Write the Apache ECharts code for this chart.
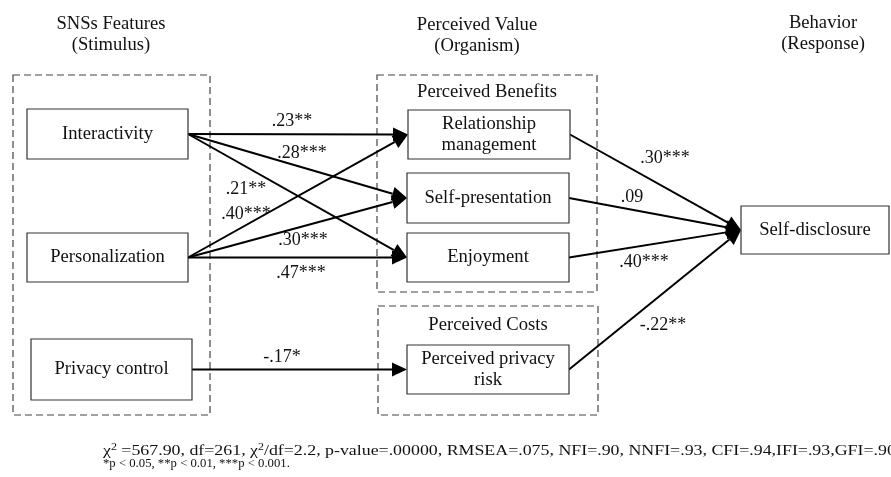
<!DOCTYPE html>
<html>
<head>
<meta charset="utf-8">
<script src="https://cdn.jsdelivr.net/npm/echarts@6/dist/echarts.min.js"></script>
<style>
  html, body { margin: 0; padding: 0; background: #fff; }
  #chart { width: 891px; height: 477px; }
</style>
</head>
<body>
<div id="chart"></div>
<script>
// constructs of the S-O-R model
const stimulusNodes = ['Interactivity', 'Personalization', 'Privacy control'];
const organismNodes = ['Relationship\nmanagement', 'Self-presentation', 'Enjoyment', 'Perceived privacy\nrisk'];
const responseNodes = ['Self-disclosure'];

// structural paths and their standardized coefficients
const pathFrom = ['Interactivity', 'Interactivity', 'Interactivity',
  'Personalization', 'Personalization', 'Personalization', 'Privacy control',
  'Relationship\nmanagement', 'Self-presentation', 'Enjoyment', 'Perceived privacy\nrisk'];
const pathTo = ['Relationship\nmanagement', 'Self-presentation', 'Enjoyment',
  'Relationship\nmanagement', 'Self-presentation', 'Enjoyment', 'Perceived privacy\nrisk',
  'Self-disclosure', 'Self-disclosure', 'Self-disclosure', 'Self-disclosure'];
const pathCoef = ['.23**', '.28***', '.21**', '.40***', '.30***', '.47***', '-.17*',
  '.30***', '.09', '.40***', '-.22**'];

const stageTitles = ['SNSs Features\n(Stimulus)', 'Perceived Value\n(Organism)', 'Behavior\n(Response)'];
const groupTitles = ['', 'Perceived Benefits', 'Perceived Costs'];
const fitText = '{t|χ}{s|2}{t| =567.90, df=261, χ}{s|2}{t|/df=2.2, p-value=.00000, RMSEA=.075, NFI=.90, NNFI=.93, CFI=.94,IFI=.93,GFI=.90}';
const noteText = '*p < 0.05, **p < 0.01, ***p < 0.001.';

// layout (pixel space of the hidden axes)
const boxPos = {
  'Interactivity': [27, 109, 188, 159],
  'Personalization': [27, 233, 188, 282],
  'Privacy control': [31, 339, 192, 400],
  'Relationship\nmanagement': [408, 110, 570, 159],
  'Self-presentation': [407, 173, 569, 223],
  'Enjoyment': [407, 233, 569, 282],
  'Perceived privacy\nrisk': [407, 345, 569, 394],
  'Self-disclosure': [741, 206, 889, 254]
};
const groupPos = [[13, 75, 210, 415], [377, 75, 597, 292], [378, 306, 598, 415]];
const groupTitlePos = [null, [487, 92], [488, 325]];
const stageTitlePos = [[111, 35], [477, 36], [823, 34]];
const coefPos = [[292, 121], [302, 153], [246, 189], [246, 214], [303, 240], [301, 273],
  [282, 357], [665, 158], [632, 197], [644, 262], [663, 325]];

const FONT = 'Liberation Serif';
const FS = 18.6;
const allNodes = stimulusNodes.concat(organismNodes, responseNodes);

const chart = echarts.init(document.getElementById('chart'));

chart.setOption({
  animation: false,
  grid: { left: 0, right: 0, top: 0, bottom: 0 },
  xAxis: { type: 'value', min: 0, max: 891, show: false },
  yAxis: { type: 'value', min: 0, max: 477, inverse: true, show: false },
  series: [
    {
      // dashed groups
      type: 'custom',
      z: 1,
      data: groupPos.map((g, i) => [i, 0]),
      renderItem(params, api) {
        const g = groupPos[params.dataIndex];
        const a = api.coord([g[0], g[1]]);
        const b = api.coord([g[2], g[3]]);
        const children = [{
          type: 'rect',
          shape: { x: a[0], y: a[1], width: b[0] - a[0], height: b[1] - a[1] },
          style: { fill: 'none', stroke: '#444', lineWidth: 1.2, lineDash: [7, 4] }
        }];
        const t = groupTitlePos[params.dataIndex];
        if (t) {
          const p = api.coord(t);
          children.push({
            type: 'text', x: p[0], y: p[1],
            style: { text: groupTitles[params.dataIndex], fontFamily: FONT, fontSize: FS,
              fill: '#111', align: 'center', verticalAlign: 'middle' }
          });
        }
        return { type: 'group', children };
      }
    },
    {
      // paths
      type: 'custom',
      z: 2,
      data: pathCoef.map((c, i) => [i, 0]),
      renderItem(params, api) {
        const i = params.dataIndex;
        const s = boxPos[pathFrom[i]];
        const t = boxPos[pathTo[i]];
        const p0 = api.coord([s[2], (s[1] + s[3]) / 2]);
        const p1 = api.coord([t[0], (t[1] + t[3]) / 2]);
        const dx = p1[0] - p0[0], dy = p1[1] - p0[1];
        const len = Math.hypot(dx, dy), ux = dx / len, uy = dy / len;
        const L = 15, W = 7;
        const base = [p1[0] - ux * L, p1[1] - uy * L];
        const lp = api.coord(coefPos[i]);
        return {
          type: 'group',
          children: [
            { type: 'line', shape: { x1: p0[0], y1: p0[1], x2: base[0], y2: base[1] },
              style: { stroke: '#000', lineWidth: 2 } },
            { type: 'polygon',
              shape: { points: [p1, [base[0] - uy * W, base[1] + ux * W], [base[0] + uy * W, base[1] - ux * W]] },
              style: { fill: '#000' } },
            { type: 'text', x: lp[0], y: lp[1],
              style: { text: pathCoef[i], fontFamily: FONT, fontSize: 18, fill: '#111',
                align: 'center', verticalAlign: 'middle' } }
          ]
        };
      }
    },
    {
      // construct boxes
      type: 'custom',
      z: 3,
      data: allNodes.map((n, i) => [i, 0]),
      renderItem(params, api) {
        const name = allNodes[params.dataIndex];
        const b = boxPos[name];
        const a = api.coord([b[0], b[1]]);
        const c = api.coord([b[2], b[3]]);
        return {
          type: 'group',
          children: [
            { type: 'rect', shape: { x: a[0], y: a[1], width: c[0] - a[0], height: c[1] - a[1] },
              style: { fill: '#fff', stroke: '#333', lineWidth: 1.2 } },
            { type: 'text', x: (a[0] + c[0]) / 2, y: (a[1] + c[1]) / 2,
              style: { text: name, fontFamily: FONT, fontSize: FS, lineHeight: 21, fill: '#111',
                align: 'center', verticalAlign: 'middle' } }
          ]
        };
      }
    }
  ],
  graphic: stageTitles.map((t, i) => ({
    type: 'text', x: stageTitlePos[i][0], y: stageTitlePos[i][1],
    style: { text: t, fontFamily: FONT, fontSize: FS, lineHeight: 21, fill: '#111',
      align: 'center', verticalAlign: 'middle' }
  })).concat([
    {
      type: 'text', x: 103, y: 451, scaleX: 1.19,
      style: {
        text: fitText, verticalAlign: 'middle', fill: '#111',
        rich: {
          t: { fontFamily: FONT, fontSize: 15, fill: '#111' },
          s: { fontFamily: FONT, fontSize: 10, fill: '#111', padding: [0, 0, 7, 0] }
        }
      }
    },
    {
      type: 'text', x: 103, y: 464, scaleX: 1.06,
      style: { text: noteText, fontFamily: FONT, fontSize: 12, fill: '#111', verticalAlign: 'middle' }
    }
  ])
});
</script>
</body>
</html>
